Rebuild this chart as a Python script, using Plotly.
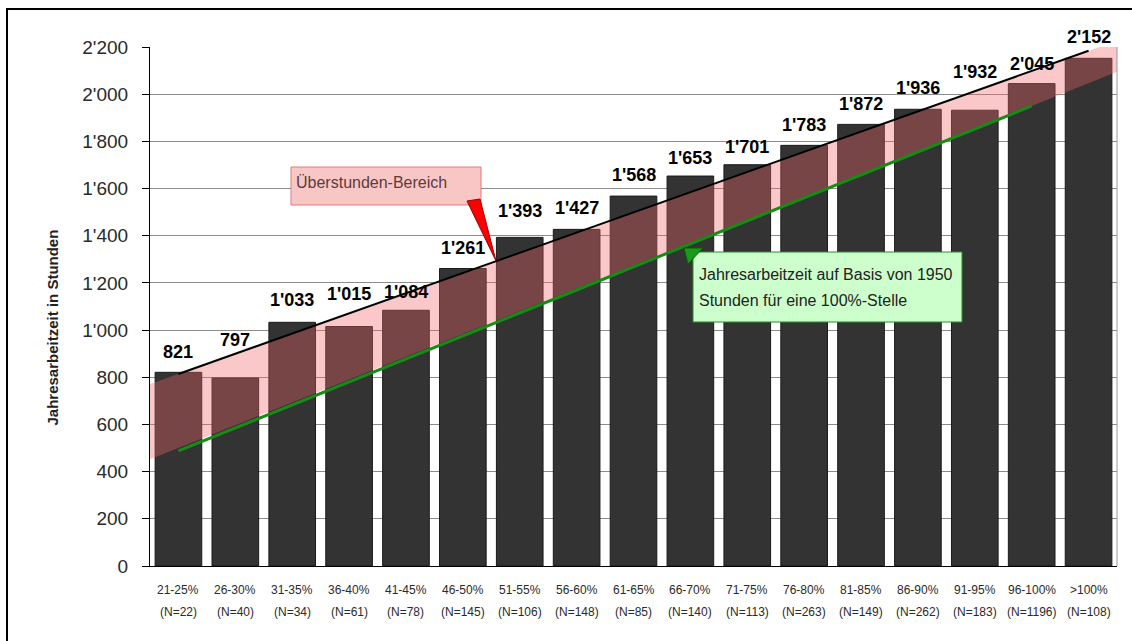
import plotly.graph_objects as go

# Data
categories = ["21-25%", "26-30%", "31-35%", "36-40%", "41-45%", "46-50%", "51-55%", "56-60%", "61-65%",
              "66-70%", "71-75%", "76-80%", "81-85%", "86-90%", "91-95%", "96-100%", ">100%"]
n_counts = [22, 40, 34, 61, 78, 145, 106, 148, 85, 140, 113, 263, 149, 262, 183, 1196, 108]
hours = [821, 797, 1033, 1015, 1084, 1261, 1393, 1427, 1568, 1653, 1701, 1783, 1872, 1936, 1932, 2045, 2152]

# 1950 h for a 100% position (upper end of each range, up to 96-100%)
target_hours = [488, 585, 683, 780, 878, 975, 1073, 1170, 1268, 1365, 1463, 1560, 1658, 1755, 1853, 1950]

# trend line of the bars (first and last bar)
trend_hours = [814, 2184]

# overtime band, edges at the left and right border of the plot
band_upper = [771, 2226]
band_lower = [452, 2095]

# label offsets above the bar tops (px)
label_shift = [20, 38, 22, 33, 18, 21, 26, 21, 21, 18, 18, 20, 20, 21, 38, 20, 21]

font = "Liberation Sans, Arial"

# plot area in pixels (for the callout boxes)
L, R, T, B = 150, 1117, 47, 566


def px_x(p):
    return (p - L) / (R - L)


def px_y(p):
    return (B - p) / (B - T)


def fmt(v):
    return f"{v:,}".replace(",", "'")


xpos = list(range(len(categories)))

fig = go.Figure()

fig.add_trace(go.Bar(x=xpos, y=hours, width=0.82, marker_color='#333333',
                     marker_line=dict(color='#1a1a1a', width=1), hoverinfo='skip'))

# pink overtime band
fig.add_trace(go.Scatter(x=[-0.5, len(categories) - 0.5, len(categories) - 0.5, -0.5],
                         y=[band_upper[0], band_upper[1], band_lower[1], band_lower[0]],
                         fill='toself', fillcolor='rgba(241, 103, 103, 0.36)', mode='lines',
                         line=dict(width=0), hoverinfo='skip'))

fig.add_trace(go.Scatter(x=[0, len(categories) - 1], y=trend_hours, mode='lines',
                         line=dict(color='black', width=2), hoverinfo='skip'))

fig.add_trace(go.Scatter(x=list(range(len(target_hours))), y=target_hours, mode='lines',
                         line=dict(color='#168c16', width=3), hoverinfo='skip'))

annotations = []

# value labels
for i, v in enumerate(hours):
    annotations.append(dict(x=i, y=v, xref='x', yref='y', text=fmt(v), showarrow=False,
                            yanchor='middle', yshift=label_shift[i],
                            font=dict(family=font, size=18, color='black', weight='bold')))

# category labels, two rows
for i, c in enumerate(categories):
    annotations.append(dict(x=i, y=0, xref='x', yref='paper', text=c, showarrow=False,
                            yanchor='middle', yshift=-24,
                            font=dict(family=font, size=12, color='#2a2a2a')))
    annotations.append(dict(x=i, y=0, xref='x', yref='paper', text=f"(N={n_counts[i]})", showarrow=False,
                            yanchor='middle', yshift=-46,
                            font=dict(family=font, size=12, color='#2a2a2a')))

# y axis title
annotations.append(dict(x=px_x(41), y=px_y(328), xref='paper', yref='paper', text="Jahresarbeitzeit in Stunden",
                        textangle=-90, showarrow=False,
                        font=dict(family=font, size=15, color='#222222', weight='bold')))

# callout texts
annotations.append(dict(x=px_x(294), y=px_y(182), xref='paper', yref='paper', text="Überstunden-Bereich",
                        showarrow=False, xanchor='left', yanchor='middle',
                        font=dict(family=font, size=16, color='#5a3c3c')))
annotations.append(dict(x=px_x(697), y=px_y(274), xref='paper', yref='paper',
                        text="Jahresarbeitzeit auf Basis von 1950", showarrow=False,
                        xanchor='left', yanchor='middle', font=dict(family=font, size=16, color='#222222')))
annotations.append(dict(x=px_x(697), y=px_y(300), xref='paper', yref='paper',
                        text="Stunden für eine 100%-Stelle", showarrow=False,
                        xanchor='left', yanchor='middle', font=dict(family=font, size=16, color='#222222')))


def tri(pts):
    return "M " + " L ".join(f"{px_x(a):.5f},{px_y(b):.5f}" for a, b in pts) + " Z"


shapes = [
    # outer frame
    dict(type='rect', xref='paper', yref='paper', x0=px_x(7), x1=px_x(1145), y0=px_y(660), y1=px_y(9),
         line=dict(color='black', width=2)),
    # right border of plot
    dict(type='line', xref='paper', yref='paper', x0=1, x1=1, y0=0, y1=1, line=dict(color='#9a9a9a', width=1)),
    # pink callout
    dict(type='rect', xref='paper', yref='paper', x0=px_x(291), x1=px_x(481), y0=px_y(205), y1=px_y(167),
         fillcolor='#f9c6c6', line=dict(color='#e07a7a', width=1), layer='above'),
    dict(type='path', xref='paper', yref='paper', path=tri([(467, 201), (480, 199), (496, 261)]),
         fillcolor='#ff0000', line=dict(color='#a00000', width=1), layer='above'),
    # green callout
    dict(type='rect', xref='paper', yref='paper', x0=px_x(693), x1=px_x(962), y0=px_y(322), y1=px_y(252),
         fillcolor='#ccffcc', line=dict(color='#2e8b2e', width=1), layer='above'),
    dict(type='path', xref='paper', yref='paper', path=tri([(684, 248), (703, 248), (688, 264)]),
         fillcolor='#1a9a1a', line=dict(color='#0a5a0a', width=1), layer='above'),
]

fig.update_xaxes(range=[-0.5, len(categories) - 0.5], showticklabels=False, showgrid=False, zeroline=False,
                 showline=True, linecolor='black', linewidth=1, ticks='')
fig.update_yaxes(range=[0, 2200], dtick=200, tickformat=',', showgrid=True, gridcolor='#8c8c8c', gridwidth=1,
                 zeroline=False, showline=True, linecolor='black', linewidth=1,
                 ticks='outside', ticklen=7, tickcolor='black', ticklabelstandoff=10,
                 tickfont=dict(family=font, size=19, color='#2a2a2a'))

fig.update_layout(width=1132, height=641, separators=".'", showlegend=False,
                  plot_bgcolor='white', paper_bgcolor='white',
                  margin=dict(l=L, r=1132 - R, t=T, b=641 - B, pad=0),
                  annotations=annotations, shapes=shapes)

# page without body margin so the chart sits at the window origin
fig.write_html("out.html", config={'displayModeBar': False},
               post_script="document.body.style.margin='0';document.body.style.overflow='hidden';")
